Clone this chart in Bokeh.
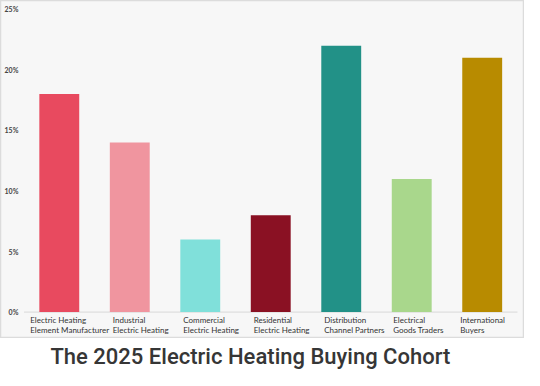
from bokeh.plotting import figure
from bokeh.layouts import column
from bokeh.models import ColumnDataSource, Range1d
from bokeh.core.properties import value
from bokeh.embed import file_html
from bokeh.resources import INLINE

categories = [
    "Electric Heating\nElement Manufacturer",
    "Industrial\nElectric Heating",
    "Commercial\nElectric Heating",
    "Residential\nElectric Heating",
    "Distribution\nChannel Partners",
    "Electrical\nGoods Traders",
    "International\nBuyers",
]
shares = [18, 14, 6, 8, 22, 11, 21]
colors = ["#e84a5f", "#f0959f", "#80e0da", "#8a1123", "#229187", "#a9d78c", "#b88b00"]
y_ticks = [0, 5, 10, 15, 20, 25]
y_tick_labels = ["0%", "5%", "10%", "15%", "20%", "25%"]
title_text = "The 2025 Electric Heating Buying Cohort"

# label indent (px) relative to bar centre, style only
label_dx = [-29, -17, -17, -17, -17, -18.5, -22]

xs = list(range(len(categories)))
line1 = [c.split("\n")[0] for c in categories]
line2 = [c.split("\n")[1] for c in categories]

bars = ColumnDataSource(dict(x=xs, top=shares, color=colors))
labels = ColumnDataSource(dict(x=xs, l1=line1, l2=line2, dx=label_dx,
                               y1=[-0.64] * len(xs), y2=[-1.44] * len(xs)))
ticks = ColumnDataSource(dict(y=y_ticks, t=y_tick_labels, x=[-0.58] * len(y_ticks)))

p = figure(width=524, height=338, output_backend="svg", toolbar_location=None,
           x_range=Range1d(-0.834, 6.6), y_range=Range1d(-2.18, 25.73),
           min_border_left=0, min_border_right=0, min_border_top=0, min_border_bottom=0)
p.axis.visible = False
p.grid.visible = False
p.background_fill_color = "#f7f7f7"
p.border_fill_color = "#ffffff"
p.outline_line_color = "#dcdcdc"
p.outline_line_width = 1.5

p.segment(x0=-0.5, x1=6.5, y0=0, y1=0, line_color="#d8d8d8", line_width=1)
p.vbar(x="x", top="top", bottom=0, width=0.566, fill_color="color", line_color=None, source=bars)

p.text(x="x", y="y", text="t", source=ticks, text_align="right", text_baseline="middle",
       text_font=value("Lato"), text_font_style="bold", text_font_size="7px", text_color="#444444")
p.text(x="x", y="y1", text="l1", x_offset="dx", source=labels, text_align="left",
       text_baseline="middle", text_font=value("Lato"), text_font_size="8px", text_color="#333333")
p.text(x="x", y="y2", text="l2", x_offset="dx", source=labels, text_align="left",
       text_baseline="middle", text_font=value("Lato"), text_font_size="8px", text_color="#333333")

# title strip below the framed chart
tf = figure(width=524, height=32, output_backend="svg", toolbar_location=None,
            x_range=Range1d(0, 524), y_range=Range1d(0, 32),
            min_border_left=0, min_border_right=0, min_border_top=0, min_border_bottom=0)
tf.axis.visible = False
tf.grid.visible = False
tf.outline_line_color = None
tf.background_fill_color = "#ffffff"
tf.border_fill_color = "#ffffff"
tf.text(x=[50], y=[14], text=[title_text], text_align="left", text_baseline="middle",
        text_font=value("Roboto Medium"), text_font_size="22px", text_color="#363636")

layout = column(p, tf, spacing=0)
open("out.html", "w").write(file_html(layout, INLINE))
